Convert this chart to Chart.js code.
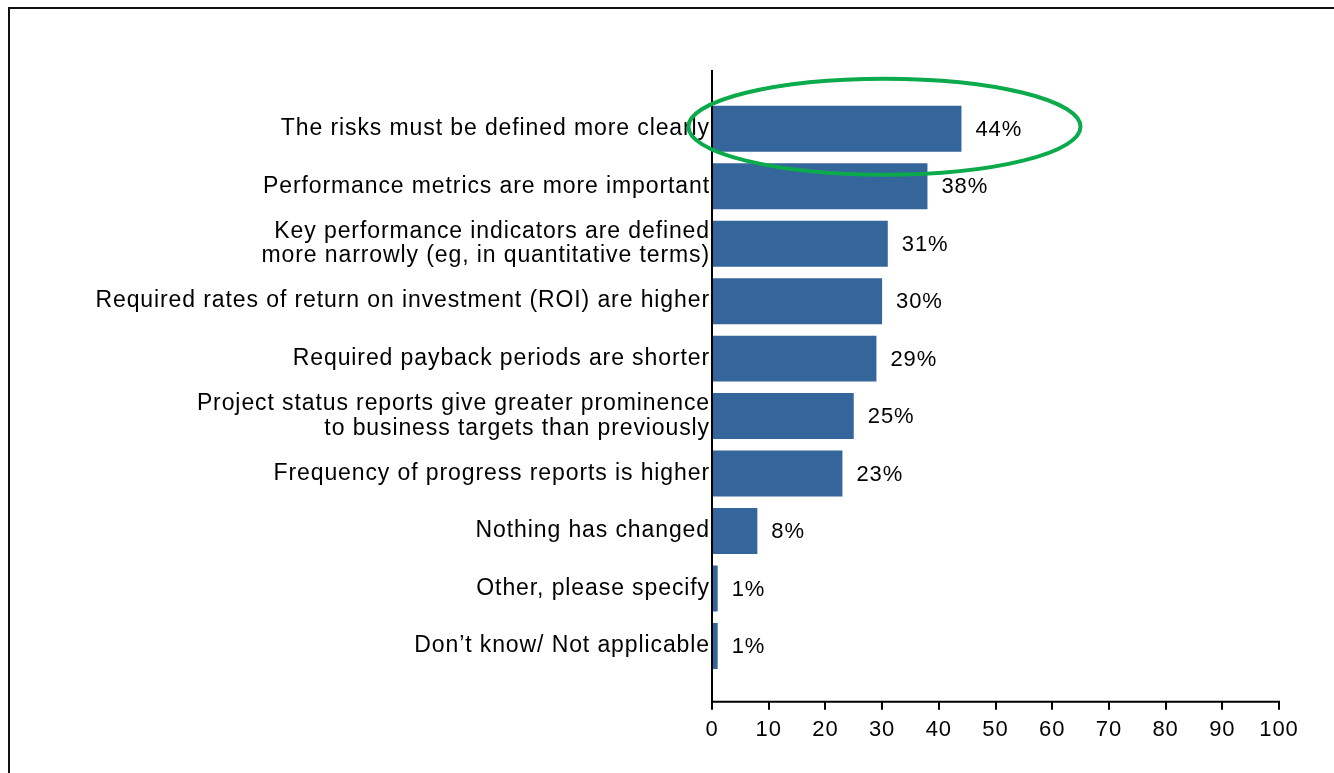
<!DOCTYPE html>
<html lang="en">
<head>
    <meta charset="UTF-8">
    <title>Changes in project evaluation</title>
    <script src="https://cdn.jsdelivr.net/npm/chart.js@4.4.0/dist/chart.umd.min.js"></script>
    <style>
        body {
            margin: 0;
            padding: 0;
            background: #fff;
            overflow: hidden;
        }
        .chart-wrap {
            position: relative;
            width: 1334px;
            height: 773px;
        }
        .frame {
            position: absolute;
            left: 8px;
            top: 7px;
            width: 2000px;
            height: 2000px;
            border-top: 2px solid #111;
            border-left: 2px solid #111;
            pointer-events: none;
        }
    </style>
</head>
<body>
    <div class="chart-wrap">
        <canvas id="changesChart"></canvas>
        <div class="frame"></div>
    </div>

    <script>
        // Answers and share of respondents (%)
        const categories = [
            'The risks must be defined more clearly',
            'Performance metrics are more important',
            ['Key performance indicators are defined', 'more narrowly (eg, in quantitative terms)'],
            'Required rates of return on investment (ROI) are higher',
            'Required payback periods are shorter',
            ['Project status reports give greater prominence', 'to business targets than previously'],
            'Frequency of progress reports is higher',
            'Nothing has changed',
            'Other, please specify',
            'Don\u2019t know/ Not applicable'
        ];
        const shares = [44, 38, 31, 30, 29, 25, 23, 8, 1, 1];
        const xTicks = [0, 10, 20, 30, 40, 50, 60, 70, 80, 90, 100];

        const FONT = '"Liberation Sans", Arial, sans-serif';

        // slightly loose lettering for all text on the canvas
        const spacing = {
            id: 'spacing',
            beforeDraw(chart) {
                chart.ctx.letterSpacing = '0.9px';
            }
        };

        // Axis lines sit a little outside the bar area
        const axisLines = {
            id: 'axisLines',
            afterDatasetsDraw(chart) {
                const { ctx, chartArea, scales } = chart;
                const x0 = scales.x.getPixelForValue(0);
                const x1 = scales.x.getPixelForValue(100);
                const axisY = chartArea.bottom + 27;
                ctx.save();
                ctx.strokeStyle = '#000';
                ctx.lineWidth = 2;
                ctx.beginPath();
                ctx.moveTo(x0, chartArea.top - 30);
                ctx.lineTo(x0, axisY);
                ctx.lineTo(x1 + 1, axisY);
                scales.x.ticks.forEach(t => {
                    const px = Math.round(scales.x.getPixelForValue(t.value));
                    ctx.moveTo(px, axisY);
                    ctx.lineTo(px, axisY + 8);
                });
                ctx.stroke();
                ctx.restore();
            }
        };

        // Percentage next to each bar, and the highlight ring round the top answer
        const valueLabels = {
            id: 'valueLabels',
            afterDatasetsDraw(chart) {
                const { ctx } = chart;
                const bars = chart.getDatasetMeta(0).data;
                ctx.save();
                ctx.font = '22px ' + FONT;
                ctx.fillStyle = '#000';
                ctx.textAlign = 'left';
                ctx.textBaseline = 'middle';
                bars.forEach((bar, i) => {
                    ctx.fillText(shares[i] + '%', bar.x + 14, bar.y + 1);
                });

                const top = bars[0];
                ctx.strokeStyle = '#0BAA4B';
                ctx.lineWidth = 4;
                ctx.beginPath();
                ctx.ellipse(top.x - 77, top.y - 2, 196, 48, 0, 0, Math.PI * 2);
                ctx.stroke();
                ctx.restore();
            }
        };

        new Chart(document.getElementById('changesChart'), {
            type: 'bar',
            data: {
                labels: categories,
                datasets: [{
                    data: shares,
                    backgroundColor: '#34659B',
                    borderWidth: 0,
                    categoryPercentage: 0.8,
                    barPercentage: 1.0
                }]
            },
            options: {
                indexAxis: 'y',
                responsive: true,
                maintainAspectRatio: false,
                animation: false,
                layout: {
                    padding: { top: 100, right: 55, bottom: 21, left: 0 }
                },
                plugins: {
                    legend: { display: false },
                    tooltip: { enabled: false }
                },
                scales: {
                    x: {
                        min: 0,
                        max: 100,
                        afterBuildTicks(scale) {
                            scale.ticks = xTicks.map(v => ({ value: v }));
                        },
                        border: { display: false },
                        grid: {
                            drawOnChartArea: false,
                            drawTicks: true,
                            tickLength: 34,
                            tickColor: 'rgba(0,0,0,0)'
                        },
                        ticks: {
                            padding: 9,
                            color: '#000',
                            maxRotation: 0,
                            font: { family: FONT, size: 22, lineHeight: 1.15 }
                        }
                    },
                    y: {
                        afterFit(scale) {
                            scale.width = 712;
                        },
                        border: { display: false },
                        grid: { display: false, drawTicks: false },
                        ticks: {
                            padding: 2,
                            color: '#000',
                            font: { family: FONT, size: 23, lineHeight: 1.08 }
                        }
                    }
                }
            },
            plugins: [spacing, axisLines, valueLabels]
        });
    </script>
</body>
</html>
